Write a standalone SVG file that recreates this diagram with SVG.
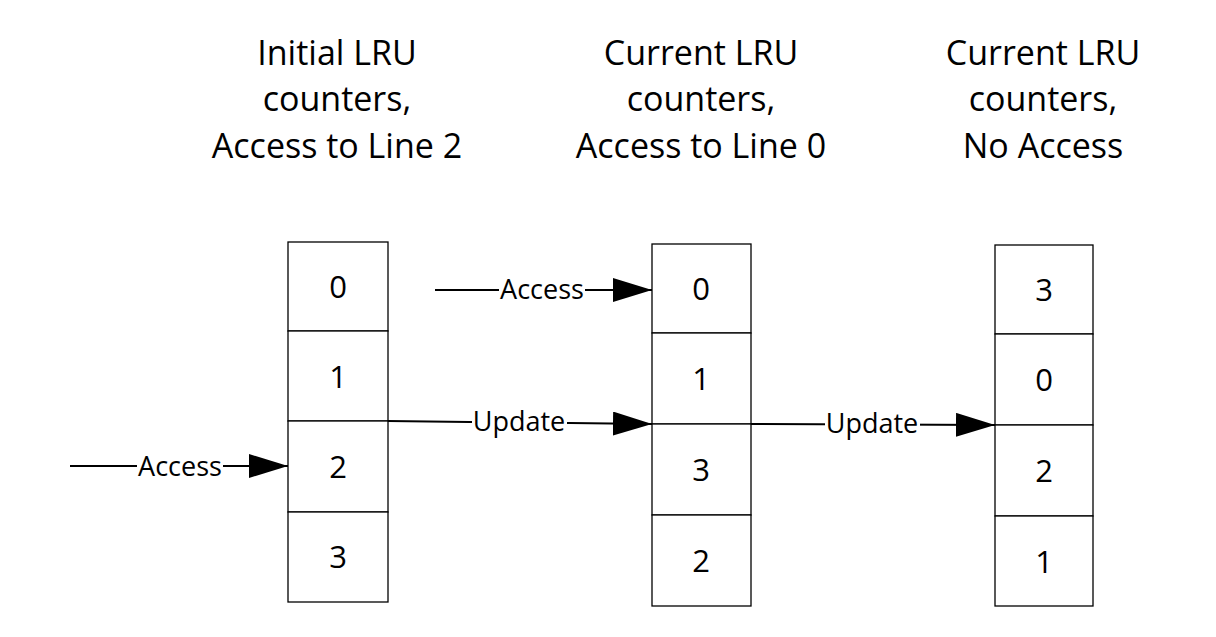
<svg xmlns="http://www.w3.org/2000/svg" width="1216" height="637" viewBox="0 0 1216 637">
<style>
.title{font-family:"Open Sans","Liberation Sans",sans-serif;font-size:34px;fill:#000;text-anchor:middle}
.cell{fill:#fff;stroke:#000;stroke-width:1.3}
.num{font-family:"Open Sans","Liberation Sans",sans-serif;font-size:31px;fill:#000;text-anchor:middle}
.lbl{font-family:"Open Sans","Liberation Sans",sans-serif;font-size:27px;fill:#000;text-anchor:middle}
.lblbg{fill:#fff;stroke:none}
.edge{fill:none;stroke:#000;stroke-width:2}
</style>
<defs>
<marker id="arr" markerWidth="39" markerHeight="24" refX="39" refY="12" orient="auto" markerUnits="userSpaceOnUse">
<path d="M0,0 L39,12 L0,24 Z" fill="#000"/>
</marker>
</defs>
<rect width="1216" height="637" fill="#fff"/>
<g id="title1">
<text class="title" x="337" y="65">Initial LRU</text>
<text class="title" x="337" y="111">counters,</text>
<text class="title" x="337" y="158">Access to Line 2</text>
</g>
<g id="title2">
<text class="title" x="701" y="65">Current LRU</text>
<text class="title" x="701" y="111">counters,</text>
<text class="title" x="701" y="158">Access to Line 0</text>
</g>
<g id="title3">
<text class="title" x="1043" y="65">Current LRU</text>
<text class="title" x="1043" y="111">counters,</text>
<text class="title" x="1043" y="158">No Access</text>
</g>
<g id="col1">
<rect class="cell" x="288" y="242" width="100" height="89"/>
<rect class="cell" x="288" y="331" width="100" height="90"/>
<rect class="cell" x="288" y="421" width="100" height="91"/>
<rect class="cell" x="288" y="512" width="100" height="90"/>
<text class="num" x="338" y="298">0</text>
<text class="num" x="338" y="388">1</text>
<text class="num" x="338" y="478">2</text>
<text class="num" x="338" y="568">3</text>
</g>
<g id="col2">
<rect class="cell" x="652" y="244" width="99" height="89"/>
<rect class="cell" x="652" y="333" width="99" height="91"/>
<rect class="cell" x="652" y="424" width="99" height="91"/>
<rect class="cell" x="652" y="515" width="99" height="91"/>
<text class="num" x="701" y="300">0</text>
<text class="num" x="701" y="390">1</text>
<text class="num" x="701" y="481">3</text>
<text class="num" x="701" y="572">2</text>
</g>
<g id="col3">
<rect class="cell" x="995" y="245" width="98" height="89"/>
<rect class="cell" x="995" y="334" width="98" height="91"/>
<rect class="cell" x="995" y="425" width="98" height="91"/>
<rect class="cell" x="995" y="516" width="98" height="90"/>
<text class="num" x="1044" y="301">3</text>
<text class="num" x="1044" y="391">0</text>
<text class="num" x="1044" y="482">2</text>
<text class="num" x="1044" y="573">1</text>
</g>
<g id="connectors">
<path class="edge" d="M70,466 L288,466" marker-end="url(#arr)"/>
<rect class="lblbg" x="137" y="452" width="86" height="30"/>
<text class="lbl" x="180" y="476">Access</text>
<path class="edge" d="M435,290 L652,290" marker-end="url(#arr)"/>
<rect class="lblbg" x="499" y="276" width="86" height="30"/>
<text class="lbl" x="542" y="299">Access</text>
<path class="edge" d="M388,421 L652,424" marker-end="url(#arr)"/>
<rect class="lblbg" x="472" y="408" width="95" height="30"/>
<text class="lbl" x="519" y="431">Update</text>
<path class="edge" d="M751,424 L995,425" marker-end="url(#arr)"/>
<rect class="lblbg" x="825" y="410" width="95" height="30"/>
<text class="lbl" x="872" y="433">Update</text>
</g>
</svg>
